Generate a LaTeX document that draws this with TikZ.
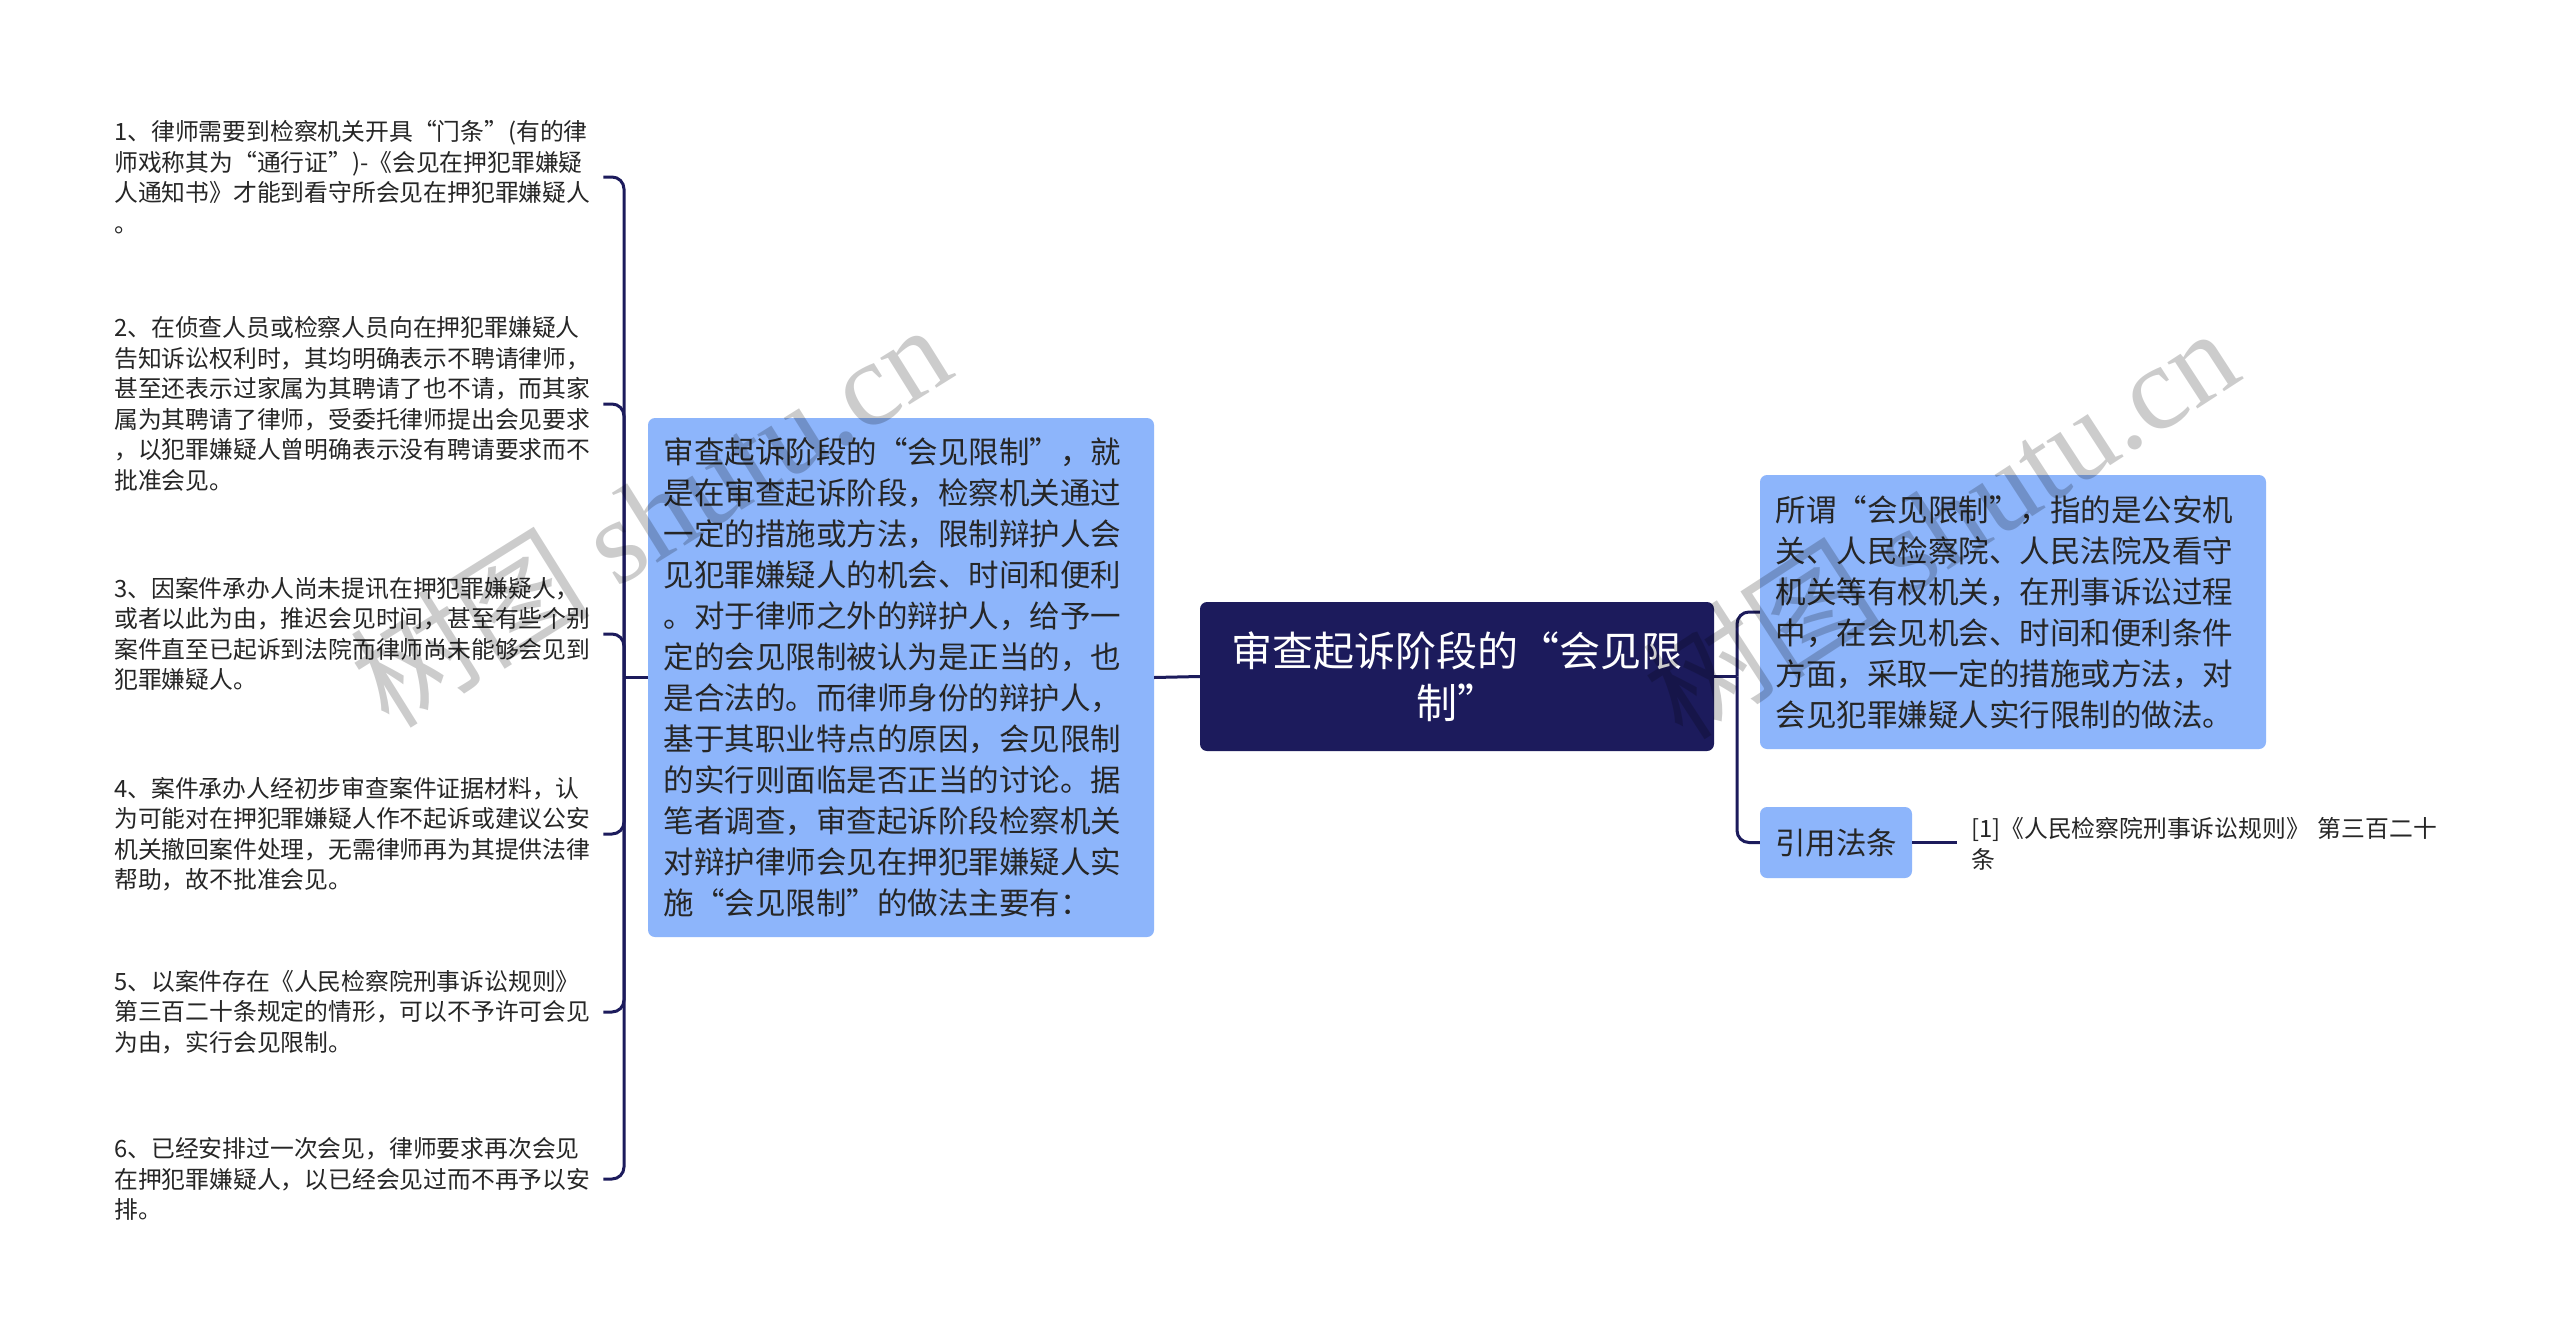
\documentclass[tikz,border=0pt]{standalone}
\usepackage{fontspec}
\setmainfont{Noto Sans CJK SC}
\newfontfamily\wmserif{Liberation Serif}
\definecolor{navy}{HTML}{1C1B5C}
\definecolor{boxblue}{HTML}{8DB5FB}
\definecolor{txt}{HTML}{262626}
\begin{document}
\begin{tikzpicture}[x=1pt,y=-1pt,
  conn/.style={draw=navy,line width=3pt},
  hook/.style={conn,rounded corners=12pt},
  leaf/.style={anchor=west,inner sep=0pt,text width=477pt,align=left,font=\fontsize{23.8}{30.5}\selectfont,text=txt},
  bluebox/.style={fill=boxblue,rounded corners=7pt,inner sep=0pt,align=left,text=txt,font=\fontsize{30.5}{41}\selectfont},
  rootbox/.style={fill=navy,rounded corners=7pt,inner sep=0pt,align=center,text=white,font=\fontsize{41}{52}\selectfont},
  wm/.style={text=black,opacity=0.2,font=\fontsize{120}{120}\selectfont}
]
\useasboundingbox[fill=white] (0,0) rectangle (2560,1338);

% root
\node[rootbox,minimum width=514pt,minimum height=149pt,text width=470pt] (root) at (1457,676.5) {审查起诉阶段的“会见限\\制”};

% left big node
\node[bluebox,minimum width=506pt,minimum height=519pt,text width=475pt] (big) at (901,677.5) {审查起诉阶段的“会见限制”，就\\是在审查起诉阶段，检察机关通过\\一定的措施或方法，限制辩护人会\\见犯罪嫌疑人的机会、时间和便利\\。对于律师之外的辩护人，给予一\\定的会见限制被认为是正当的，也\\是合法的。而律师身份的辩护人，\\基于其职业特点的原因，会见限制\\的实行则面临是否正当的讨论。据\\笔者调查，审查起诉阶段检察机关\\对辩护律师会见在押犯罪嫌疑人实\\施“会见限制”的做法主要有：};

% leaves
\node[leaf] (i1) at (114,177) {1、律师需要到检察机关开具“门条”(有的律\\师戏称其为“通行证”)-《会见在押犯罪嫌疑\\人通知书》才能到看守所会见在押犯罪嫌疑人\\。};
\node[leaf] (i2) at (114,404) {2、在侦查人员或检察人员向在押犯罪嫌疑人\\告知诉讼权利时，其均明确表示不聘请律师，\\甚至还表示过家属为其聘请了也不请，而其家\\属为其聘请了律师，受委托律师提出会见要求\\，以犯罪嫌疑人曾明确表示没有聘请要求而不\\批准会见。};
\node[leaf] (i3) at (114,634) {3、因案件承办人尚未提讯在押犯罪嫌疑人，\\或者以此为由，推迟会见时间，甚至有些个别\\案件直至已起诉到法院而律师尚未能够会见到\\犯罪嫌疑人。};
\node[leaf] (i4) at (114,834) {4、案件承办人经初步审查案件证据材料，认\\为可能对在押犯罪嫌疑人作不起诉或建议公安\\机关撤回案件处理，无需律师再为其提供法律\\帮助，故不批准会见。};
\node[leaf] (i5) at (114,1012) {5、以案件存在《人民检察院刑事诉讼规则》\\第三百二十条规定的情形，可以不予许可会见\\为由，实行会见限制。};
\node[leaf] (i6) at (114,1179) {6、已经安排过一次会见，律师要求再次会见\\在押犯罪嫌疑人，以已经会见过而不再予以安\\排。};

% right nodes
\node[bluebox,minimum width=506pt,minimum height=274pt,text width=475pt] (def) at (2013,612) {所谓“会见限制”，指的是公安机\\关、人民检察院、人民法院及看守\\机关等有权机关，在刑事诉讼过程\\中，在会见机会、时间和便利条件\\方面，采取一定的措施或方法，对\\会见犯罪嫌疑人实行限制的做法。};
\node[bluebox,minimum width=152pt,minimum height=71pt,align=center] (cite) at (1836,842.5) {引用法条};
\node[leaf,text width=500pt] (ref) at (1971,844) {[1]《人民检察院刑事诉讼规则》 第三百二十\\条};

% connectors
\coordinate (lt) at (624,677.5);
\coordinate (rt) at (1737,676.5);
\draw[conn] (root.west) -- (big.east);
\draw[conn] (big.west) -- (lt);
\foreach \i in {i1,i2,i3,i4,i5,i6}{
  \draw[hook] (lt) |- ([xshift=12pt]\i.east);
}
\draw[conn] (root.east) -- (rt);
\draw[hook] (rt) |- (def.west);
\draw[hook] (rt) |- (cite.west);
\coordinate (refend) at (1957,842.5);
\draw[conn] (cite.east) -- (refend);

% watermarks
\node[wm,rotate=32] (wm1) at (650,514) {树图 {\wmserif shutu.cn}};
\node[wm,rotate=33] (wm2) at (1940,522) {树图 {\wmserif shutu.cn}};
\end{tikzpicture}
\end{document}
